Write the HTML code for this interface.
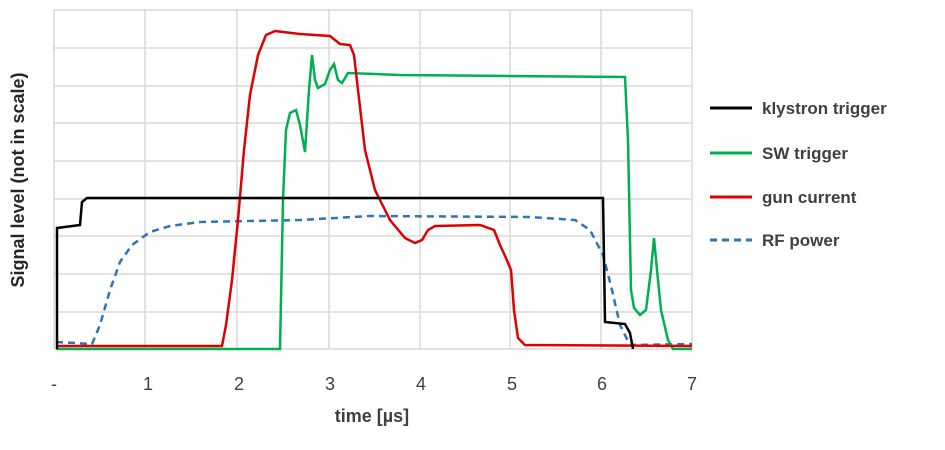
<!DOCTYPE html><html><head><style>body{margin:0;background:#fff}</style></head><body>
<svg width="945" height="445" xmlns="http://www.w3.org/2000/svg" font-family="Liberation Sans, sans-serif">
<rect width="945" height="445" fill="#fff"/>
<g stroke="#d9d9d9" stroke-width="1.5">
<line x1="54" y1="10" x2="692" y2="10"/><line x1="54" y1="48" x2="692" y2="48"/><line x1="54" y1="86" x2="692" y2="86"/><line x1="54" y1="123" x2="692" y2="123"/><line x1="54" y1="161" x2="692" y2="161"/><line x1="54" y1="199" x2="692" y2="199"/><line x1="54" y1="236" x2="692" y2="236"/><line x1="54" y1="274" x2="692" y2="274"/><line x1="54" y1="312" x2="692" y2="312"/><line x1="54" y1="349" x2="692" y2="349"/>
<line x1="54" y1="10" x2="54" y2="349"/><line x1="145" y1="10" x2="145" y2="349"/><line x1="237" y1="10" x2="237" y2="349"/><line x1="329" y1="10" x2="329" y2="349"/><line x1="420" y1="10" x2="420" y2="349"/><line x1="510" y1="10" x2="510" y2="349"/><line x1="601" y1="10" x2="601" y2="349"/><line x1="692" y1="10" x2="692" y2="349"/>
</g>
<polyline fill="none" stroke="#2e75b6" stroke-width="2.5" stroke-dasharray="7,5" points="56,342 92,344 100,325 110,290 120,262 132,245 150,232 170,226 200,222 300,220 370,216 530,217 575,220 590,230 603,255 612,290 620,325 630,345 692,344"/>
<polyline fill="none" stroke="#00b050" stroke-width="2.5" points="56,349 280,349 283,200 286,130 290,113 296,110 300,125 305,152 309,90 312,55 315,80 318,88 325,84 330,70 334,64 338,80 342,83 348,73 400,75 625,77 628,140 631,290 634,308 640,315 646,310 651,270 654,238 657,270 661,310 668,340 673,349 692,349"/>
<polyline fill="none" stroke="#e00000" stroke-width="2.5" points="56,346 222,346 226,325 232,280 238,220 244,150 250,95 258,55 266,35 275,31 300,34 330,36 340,44 350,45 354,55 358,90 365,150 375,190 390,220 405,238 415,243 422,240 428,230 435,226 480,225 494,230 500,245 506,258 511,270 514,310 518,338 525,345 692,346"/>
<polyline fill="none" stroke="#000" stroke-width="2.5" points="57,349 57,228 80,225 82,202 87,198 603,198 605,322 625,324 630,333 633,349"/>
<g font-size="18" fill="#404040">
<text x="54" y="390" text-anchor="middle">-</text><text x="148" y="390" text-anchor="middle">1</text><text x="239" y="390" text-anchor="middle">2</text><text x="330" y="390" text-anchor="middle">3</text><text x="421" y="390" text-anchor="middle">4</text><text x="512" y="390" text-anchor="middle">5</text><text x="602" y="390" text-anchor="middle">6</text><text x="692" y="390" text-anchor="middle">7</text>
</g>
<text x="372" y="422" font-size="18" font-weight="bold" fill="#404040" text-anchor="middle">time [µs]</text>
<text transform="translate(24,180) rotate(-90)" font-size="18" font-weight="bold" fill="#262626" text-anchor="middle">Signal level (not in scale)</text>
<g font-size="17" font-weight="bold" fill="#404040">
<line x1="710" y1="108" x2="752" y2="108" stroke="#000" stroke-width="3"/><text x="762" y="114">klystron trigger</text>
<line x1="710" y1="153" x2="752" y2="153" stroke="#00b050" stroke-width="3"/><text x="762" y="159">SW trigger</text>
<line x1="710" y1="197" x2="752" y2="197" stroke="#e00000" stroke-width="3"/><text x="762" y="203">gun current</text>
<line x1="710" y1="240" x2="752" y2="240" stroke="#2e75b6" stroke-width="3" stroke-dasharray="7,5"/><text x="762" y="246">RF power</text>
</g>
</svg></body></html>
